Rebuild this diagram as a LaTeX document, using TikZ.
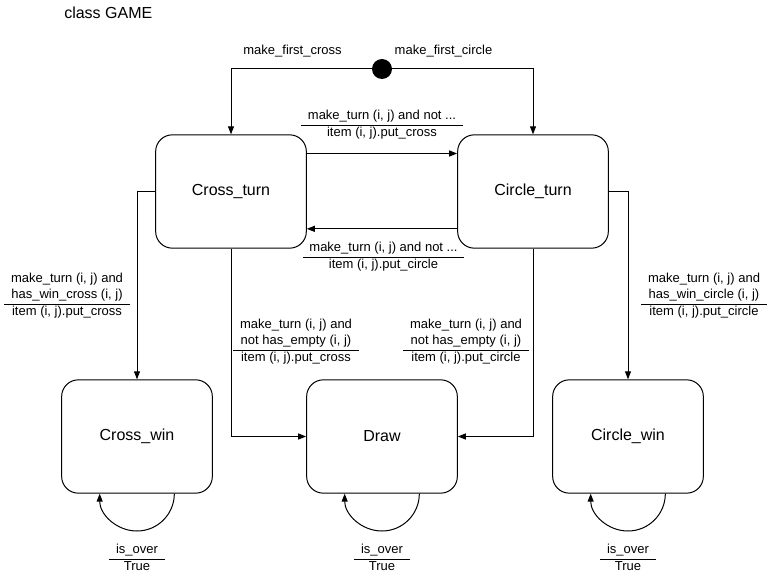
\documentclass[tikz,border=0pt]{standalone}
\usepackage{fontspec}
\setmainfont{Liberation Sans}
\usetikzlibrary{arrows.meta,positioning}
\setlength{\arrayrulewidth}{0.6pt}
\newcommand{\guard}[2]{\begin{tabular}{@{\hspace{5pt}}c@{\hspace{5pt}}}#1\\\hline #2\end{tabular}}

\begin{document}
\begin{tikzpicture}[x=0.75pt,y=-0.75pt,
  every node/.style={font=\fontsize{9.75}{12}\selectfont,inner sep=0pt},
  state/.style={draw,line width=0.75pt,rounded corners=12.5pt,
                minimum width=113pt,minimum height=85pt,
                font=\fontsize{12}{14}\selectfont},
  arr/.style={line width=0.75pt,-{Triangle[length=6pt,width=4.5pt]}}
]
  \useasboundingbox (0,0) rectangle (768,577);
  \node[anchor=west,font=\fontsize{12}{14}\selectfont] (title) at (64,13) {class GAME};
  \node[circle,fill,minimum size=15pt] (init) at (382,69) {};

  \node[state] (crossturn) at (231,191.5) {Cross\_turn};
  \node[state] (circleturn) at (533,191.5) {Circle\_turn};
  \node[state] (crosswin) at (137,436.5) {Cross\_win};
  \node[state] (drawst) at (382,436.5) {Draw};
  \node[state] (circlewin) at (628,436.5) {Circle\_win};

  \draw[arr] (init) -| (crossturn);
  \draw[arr] (init) -| (circleturn);
  \draw[arr] ([yshift=28.5pt]crossturn.east) -- ([yshift=28.5pt]circleturn.west);
  \draw[arr] ([yshift=-28pt]circleturn.west) -- ([yshift=-28pt]crossturn.east);
  \draw[arr] (crossturn.west) -| (crosswin);
  \draw[arr] (circleturn.east) -| (circlewin);
  \draw[arr] (crossturn.south) |- (drawst);
  \draw[arr] (circleturn.south) |- (drawst);
  \foreach \s in {crosswin,drawst,circlewin}
    \draw[arr] ([xshift=28pt]\s.south) arc[start angle=0,end angle=-180,radius=28pt];

  % transition labels
  \node (firstcross) at (292.5,51) {make\_first\_cross};
  \node (firstcircle) at (443.5,51) {make\_first\_circle};
  \node (putcross) at (382,125) {\guard{make\_turn (i, j) and not ...}{item (i, j).put\_cross}};
  \node (putcircle) at (383.5,257) {\guard{make\_turn (i, j) and not ...}{item (i, j).put\_circle}};
  \node (wincross) at (67,296) {\guard{make\_turn (i, j) and\\has\_win\_cross (i, j)}{item (i, j).put\_cross}};
  \node (wincircle) at (704,296) {\guard{make\_turn (i, j) and\\has\_win\_circle (i, j)}{item (i, j).put\_circle}};
  \node (fullcross) at (296,342) {\guard{make\_turn (i, j) and\\not has\_empty (i, j)}{item (i, j).put\_cross}};
  \node (fullcircle) at (466,342) {\guard{make\_turn (i, j) and\\not has\_empty (i, j)}{item (i, j).put\_circle}};
  \foreach \s/\x in {overcross/137,overdraw/382,overcircle/628}
    \node (\s) at (\x,559) {\guard{is\_over}{True}};
\end{tikzpicture}
\end{document}
